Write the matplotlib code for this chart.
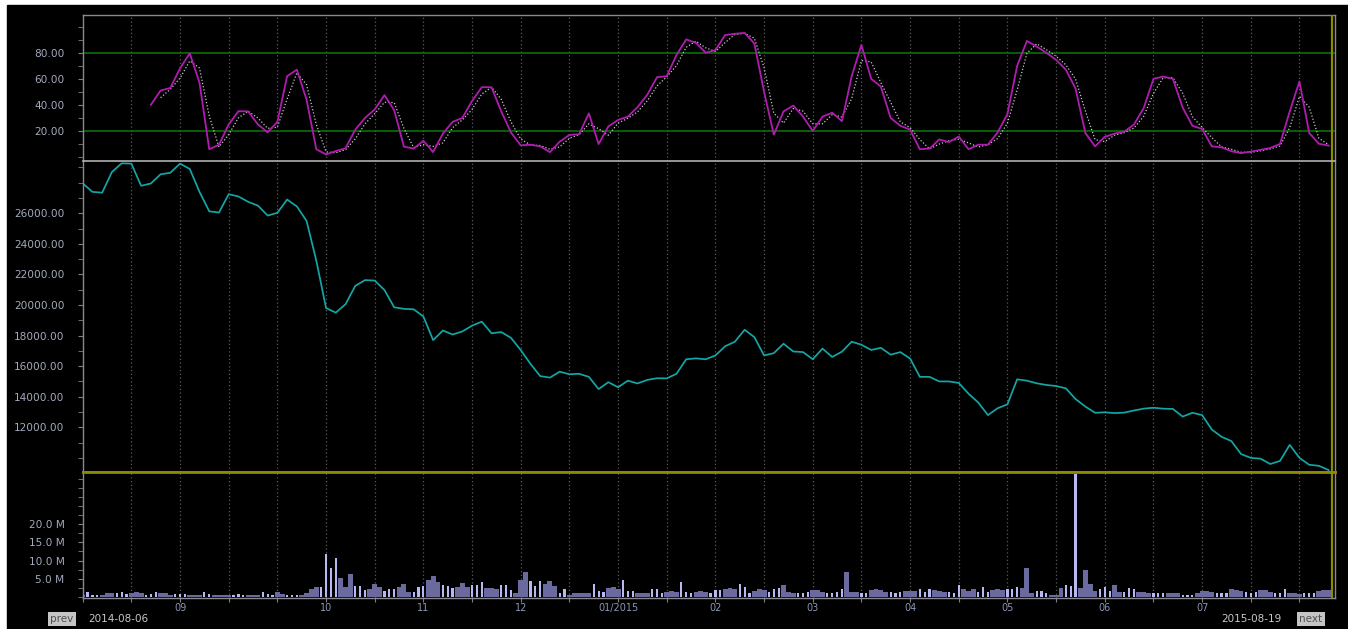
import numpy as np
import pandas as pd
import matplotlib
matplotlib.use('Agg')
import matplotlib.pyplot as plt
from matplotlib.lines import Line2D
from matplotlib.ticker import FixedLocator

# closing price, one value every 2 trading days (index 0..256)
price = [27960, 27400, 27350, 28700, 29270, 29250, 27800, 27950, 28550, 28650,
         29250, 28900, 27400, 26130, 26050, 27250, 27100, 26750, 26500, 25850,
         26030, 26900, 26450, 25500, 22900, 19800, 19500, 20050, 21250, 21630,
         21600, 20980, 19850, 19750, 19720, 19250, 17700, 18330, 18070, 18270,
         18650, 18910, 18150, 18230, 17850, 17050, 16150, 15350, 15250, 15640,
         15470, 15500, 15300, 14500, 14950, 14620, 15050, 14870, 15100, 15210,
         15200, 15500, 16450, 16510, 16450, 16700, 17300, 17600, 18380, 17900,
         16700, 16850, 17470, 16960, 16920, 16450, 17150, 16600, 16950, 17600,
         17400, 17060, 17200, 16750, 16920, 16500, 15300, 15300, 15000, 15000,
         14900, 14200, 13620, 12800, 13250, 13500, 15140, 15050, 14880, 14770,
         14700, 14550, 13850, 13360, 12950, 12980, 12930, 12960, 13100, 13220,
         13280, 13220, 13200, 12700, 12950, 12800, 11850, 11380, 11100, 10250,
         10000, 9950, 9600, 9800, 10850, 10000, 9550, 9480, 9200]

# oscillator (K line), every 2 trading days from index 14
kline = [40, 51, 53, 68, 79.5, 57, 6, 9.5, 25, 35.2,
         35, 25, 19, 27, 62, 67, 44, 6, 2, 4.6,
         6.8, 21, 30, 36.5, 47.5, 36, 8, 6.5, 12.5, 3.8,
         18, 27, 30, 43, 53.6, 53.5, 35, 18.8, 9, 9.5,
         8.2, 3.8, 11.8, 17, 17.5, 33.5, 10, 23.5, 28.5, 31,
         38.3, 47.8, 61.2, 62, 78.2, 90.2, 87.5, 80, 82, 93.5,
         94.5, 95.2, 87, 50, 17.2, 35, 39.5, 31, 20, 31,
         34, 27.5, 62, 86, 60, 54, 30, 24, 21, 6,
         6.5, 13.5, 11.5, 15.8, 6, 9.5, 9.5, 19, 33, 70,
         89, 84.7, 80, 74.5, 67, 52.5, 18.5, 8.2, 15.5, 18,
         19.5, 25, 37.5, 60, 61.7, 60, 38, 24, 21.5, 8.2,
         7.5, 4.5, 3, 4.2, 5.5, 7, 10, 35, 58, 18.5,
         10.2, 8.8]

# daily volume in millions (index 0..256)
volume = [0.6, 1.4, 0.5, 0.4, 0.5, 1.1, 1.0, 1.0, 1.2, 0.7,
          1.1, 1.2, 1.1, 0.6, 0.8, 1.4, 1.0, 1.1, 0.6, 0.8,
          0.8, 0.7, 0.4, 0.5, 0.6, 1.2, 0.8, 0.4, 0.5, 0.6,
          0.4, 0.6, 0.7, 0.6, 0.5, 0.5, 0.4, 1.3, 0.7, 0.6,
          1.2, 0.8, 0.5, 0.5, 0.4, 0.6, 1.0, 2.0, 2.7, 2.8,
          11.7, 7.8, 10.8, 5.3, 2.8, 6.2, 2.9, 2.9, 1.9, 2.2,
          3.5, 2.6, 1.6, 2.1, 2.0, 2.6, 3.4, 1.3, 1.2, 2.8,
          3.0, 4.5, 5.7, 4.0, 3.3, 3.0, 2.3, 2.8, 3.9, 2.6,
          3.1, 3.1, 4.0, 2.3, 2.3, 2.0, 3.1, 3.1, 1.9, 1.0,
          4.5, 6.9, 4.2, 3.0, 4.2, 3.5, 4.2, 3.0, 1.0, 2.1,
          0.5, 0.9, 1.0, 1.0, 1.1, 3.5, 1.6, 1.2, 2.5, 2.8,
          2.0, 4.7, 1.6, 1.6, 0.9, 1.0, 1.1, 2.1, 2.1, 1.1,
          1.2, 1.5, 1.3, 4.0, 1.3, 1.0, 1.4, 1.5, 1.3, 1.0,
          1.9, 1.9, 2.0, 2.5, 2.2, 3.5, 2.6, 1.0, 1.6, 2.2,
          1.9, 1.4, 2.1, 2.5, 3.1, 1.3, 1.1, 1.0, 1.0, 1.3,
          1.9, 1.8, 1.4, 1.1, 1.1, 1.2, 2.1, 6.9, 1.3, 1.2,
          1.0, 1.0, 1.8, 2.1, 1.8, 1.4, 1.4, 1.1, 1.3, 1.6,
          1.7, 1.5, 2.1, 1.4, 2.1, 1.9, 1.7, 1.3, 1.4, 1.1,
          3.2, 2.1, 1.5, 2.1, 1.4, 2.6, 1.4, 1.8, 2.1, 1.9,
          2.1, 2.1, 2.8, 2.5, 7.9, 1.1, 1.6, 1.6, 1.1, 0.6,
          0.6, 2.5, 3.3, 2.9, 34.0, 2.5, 7.4, 3.4, 1.5, 2.1,
          2.8, 1.6, 3.3, 1.4, 1.3, 2.3, 2.1, 1.3, 1.3, 1.0,
          1.1, 1.1, 1.1, 1.1, 1.1, 0.9, 0.6, 0.6, 0.6, 1.0,
          1.6, 1.5, 1.3, 0.9, 1.1, 1.1, 2.1, 1.8, 1.5, 1.4,
          1.1, 1.2, 1.9, 1.8, 1.2, 0.9, 0.9, 2.1, 0.9, 0.9,
          0.8, 0.9, 0.9, 1.1, 1.6, 1.9, 1.9]

# u = up day, d = down day, one char per volume bar
updown = ('duuuddduuu' 'ddduuudddu' 'uuddduuddd' 'duuuddduuu' 'dduuuddddu'
          'uuuddduuud' 'dduuuddduu' 'uddduuuddd' 'uuuddduuud' 'dduuuddduu'
          'ddddduuudd' 'duuuddduuu' 'ddduuudddu' 'uuddduuudd' 'duuuddduuu'
          'ddduuuuddd' 'uudddduuud' 'dduuuddduu' 'uddduuuddd' 'uuuddduuud'
          'dduuuddddu' 'uudduuuddd' 'uuuddduuud' 'ddduuudddu' 'uuddduuudd'
          'duuuddd')

month_labels = ['09', '10', '11', '12', '01/2015', '02', '03', '04', '05', '06', '07']
month_pos = [20, 50, 70, 90, 110, 130, 150, 170, 190, 210, 230]
start_date = '2014-08-06'
end_date = '2015-08-19'

price_x = np.arange(0, 2 * len(price), 2)
k_x = np.arange(14, 14 + 2 * len(kline), 2)
d_line = pd.Series(kline).rolling(2).mean()
vol_x = np.arange(len(volume))
up = np.array([c == 'u' for c in updown])
vol = np.array(volume)

W, H = 1348, 629
L, R = 82.7, 1335
px_per_day = 4.867
xmax = (R - L) / px_per_day
last_x = (1332 - L) / px_per_day

fig = plt.figure(figsize=(W / 100, H / 100), dpi=100, facecolor='white')
fig.add_artist(plt.Rectangle((7 / W, 0), 1, (H - 5) / H, transform=fig.transFigure,
                             color='black', zorder=-10))


def panel(top, bottom):
    ax = fig.add_axes([L / W, 1 - bottom / H, (R - L) / W, (bottom - top) / H])
    ax.set_facecolor('black')
    ax.set_xlim(0, xmax)
    for s in ax.spines.values():
        s.set_color('#8a8a8a')
        s.set_linewidth(1)
    for g in range(10, 251, 10):
        ax.axvline(g, color='#5a5a5a', ls=(0, (1, 2)), lw=0.9, zorder=0)
    ax.axvline(last_x, color='#8c8a00', lw=1.6, zorder=5)
    ax.tick_params(axis='y', which='both', direction='out', color='#808080',
                   labelcolor='#a3aabb', labelsize=7.6, pad=9.5, length=3.6)
    return ax


ax1 = panel(15, 161)
ax2 = panel(161, 472)
ax3 = panel(472, 598)

# oscillator panel
ax1.set_ylim(-3, 108.9)
ax1.axhline(80, color='#0c780c', lw=1.1)
ax1.axhline(20, color='#0c780c', lw=1.1)
ax1.plot(k_x, d_line, color='#c8c8c8', ls=(0, (1, 1.6)), lw=0.9)
ax1.plot(k_x, kline, color='#b01cb0', lw=1.3)
ax1.yaxis.set_major_locator(FixedLocator([20, 40, 60, 80]))
ax1.yaxis.set_minor_locator(FixedLocator(np.arange(0, 101, 10)))
ax1.set_yticklabels(['%.2f' % v for v in [20, 40, 60, 80]])
ax1.spines['bottom'].set_visible(False)
ax1.set_xticks([])

# price panel
ax2.set_ylim(9076, 29421)
ax2.plot(price_x, price, color='#14a6a6', lw=1.25)
majors = list(range(12000, 26001, 2000))
ax2.yaxis.set_major_locator(FixedLocator(majors))
ax2.yaxis.set_minor_locator(FixedLocator(np.arange(10000, 29001, 1000)))
ax2.set_yticklabels(['%.2f' % v for v in majors])
ax2.spines['top'].set_visible(False)
ax2.spines['bottom'].set_color('#8c8a00')
ax2.spines['bottom'].set_linewidth(2)
ax2.set_xticks([])

# volume panel
ax3.set_ylim(-0.36, 34.45)
ax3.bar(vol_x[~up], vol[~up], width=1.0, color='#6a6a9e', linewidth=0)
ax3.bar(vol_x[up], vol[up], width=0.45, color='#b8b8f2', linewidth=0)
vmaj = [5, 10, 15, 20]
ax3.yaxis.set_major_locator(FixedLocator(vmaj))
ax3.yaxis.set_minor_locator(FixedLocator(np.arange(0, 33, 2.5)))
ax3.set_yticklabels(['%.1f M' % v for v in vmaj])
ax3.spines['top'].set_color('#8c8a00')
ax3.spines['top'].set_linewidth(2)
grid_ticks = list(range(0, 251, 10))
ax3.set_xticks(grid_ticks)
ax3.set_xticklabels([month_labels[month_pos.index(t)] if t in month_pos else ''
                     for t in grid_ticks])
ax3.tick_params(axis='x', direction='out', length=3, color='#808080',
                labelcolor='#8a98b4', labelsize=7, pad=0.5)

# light grey separator between oscillator and price panels
fig.add_artist(Line2D([L / W, R / W], [1 - 161 / H, 1 - 161 / H],
                      transform=fig.transFigure, color='#b0b0b0', lw=1.2, zorder=20))

# navigation row
fig.text(62 / W, 1 - 619 / H, 'prev', ha='center', va='center', fontsize=7.5,
         color='#505050', bbox=dict(boxstyle='square,pad=0.22', fc='#c4c4c4', ec='none'))
fig.text(88 / W, 1 - 619 / H, start_date, ha='left', va='center', fontsize=7.5,
         color='#c8c8c8')
fig.text(1281 / W, 1 - 619 / H, end_date, ha='right', va='center', fontsize=7.5,
         color='#c8c8c8')
fig.text(1311 / W, 1 - 619 / H, 'next', ha='center', va='center', fontsize=7.5,
         color='#505050', bbox=dict(boxstyle='square,pad=0.22', fc='#c4c4c4', ec='none'))

fig.savefig('out.png', dpi=100, facecolor='white')
